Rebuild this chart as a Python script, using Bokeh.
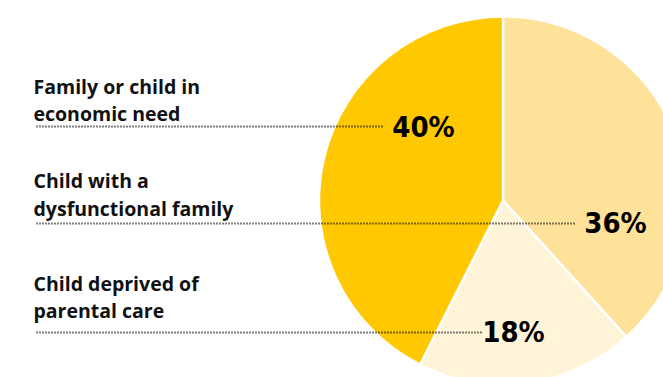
from math import pi
from bokeh.plotting import figure
from bokeh.models import ColumnDataSource
from bokeh.core.properties import value
from bokeh.embed import file_html
from bokeh.resources import INLINE

# ---- data ----
categories = ["Child with a dysfunctional family", "Child deprived of parental care", "Family or child in economic need"]
values = [36, 18, 40]
pct_labels = ["36%", "18%", "40%"]
colors = ["#FFE299", "#FFF4D8", "#FFC800"]

label_lines = [
    ["Family or child in", "economic need"],
    ["Child with a", "dysfunctional family"],
    ["Child deprived of", "parental care"],
]

W, H = 663, 377
p = figure(width=W, height=H, x_range=(0, W), y_range=(0, H),
           output_backend="svg", toolbar_location=None, min_border=0)
p.axis.visible = False
p.grid.visible = False
p.outline_line_color = None
p.background_fill_color = "white"
p.border_fill_color = "white"

cx, cy, R = 502.5, H - 200, 184
total = sum(values)
starts, ends = [], []
cum = 0.0
for v in values:
    a0 = pi / 2 - 2 * pi * (cum + v) / total
    a1 = pi / 2 - 2 * pi * cum / total
    starts.append(a0)
    ends.append(a1)
    cum += v
src = ColumnDataSource(dict(start=starts, end=ends, color=colors, cat=categories))
p.wedge(x=cx, y=cy, radius=R, start_angle="start", end_angle="end",
        fill_color="color", line_color="white", line_width=2.5, source=src)

# dotted leader lines (pixel y from top)
line_y = [125, 222, 331]
line_end = [383, 575, 482]
for ly, le in zip(line_y, line_end):
    p.line([36, le], [H - ly - 1, H - ly - 1], line_color="black",
           line_width=2, line_dash="1 2")

# percentage labels: order matching label_lines (40, 36, 18)
order = [2, 0, 1]
pct_x = [423, 615, 513]
pct_y = [126, 222, 331]
p.text(x=pct_x, y=[H - y for y in pct_y], text=[pct_labels[i] for i in order],
       text_font=value("DejaVu Sans Condensed"), text_font_style="bold",
       text_font_size="29px", text_align="center", text_baseline="middle",
       text_color="black")

# category labels
base_y = [(86, 113), (180, 208), (283, 310)]
xs, ys, ts = [], [], []
for lines, bys in zip(label_lines, base_y):
    for t, by in zip(lines, bys):
        xs.append(33)
        ys.append(H - by)
        ts.append(t)
p.text(x=xs, y=ys, text=ts, text_font=value("Open Sans"), text_font_style="bold",
       text_font_size="19.5px", text_align="left", text_baseline="alphabetic",
       text_color="#111111")

open("out.html", "w").write(file_html(p, INLINE))
